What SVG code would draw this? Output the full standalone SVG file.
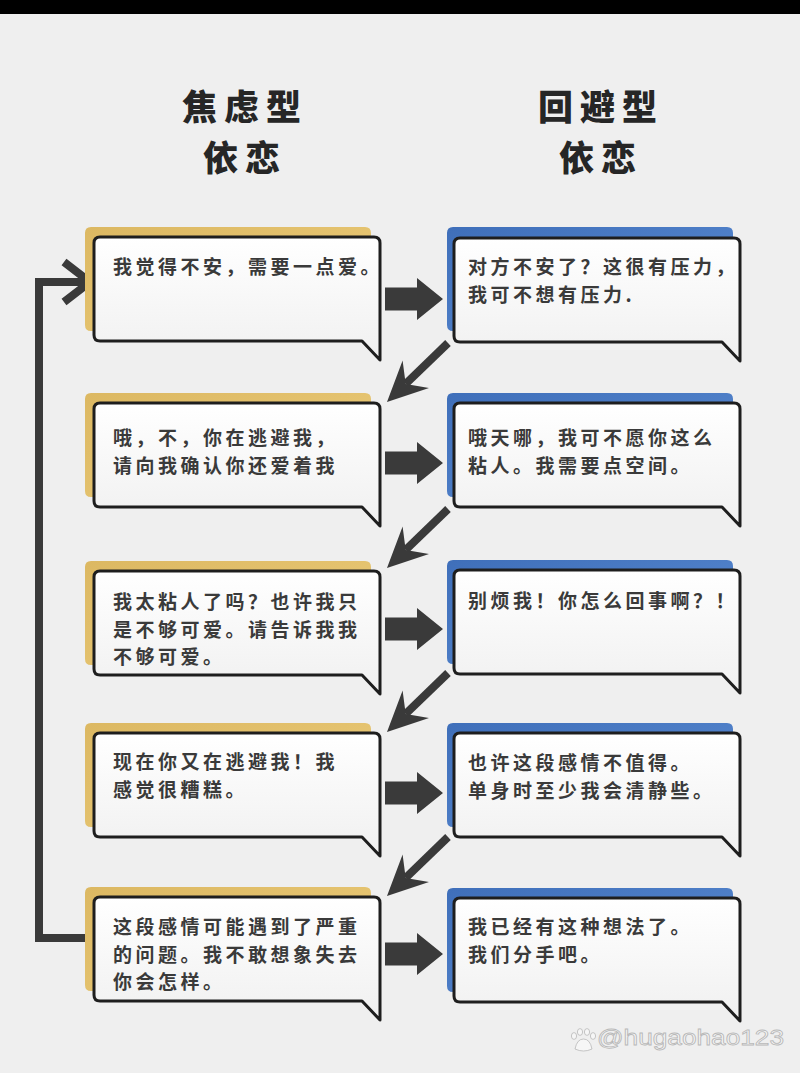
<svg xmlns="http://www.w3.org/2000/svg" xmlns:xlink="http://www.w3.org/1999/xlink" width="800" height="1073" viewBox="0 0 800 1073">
<style>
.title{font-family:"Noto Sans CJK SC","Noto Sans CJK JP",sans-serif;font-size:35px;font-weight:900;fill:#262626;text-anchor:middle;letter-spacing:7px}
.t{font-family:"Noto Sans CJK SC","Noto Sans CJK JP",sans-serif;font-size:19px;font-weight:700;fill:#3a3a3a;letter-spacing:3.5px}
.box{fill:url(#boxGrad);stroke:#1e1e1e;stroke-width:3;stroke-linejoin:round}
.shY{fill:url(#yel)}
.shB{fill:url(#blu)}
.conn{stroke:#3a3a3a;stroke-width:8;fill:none}
.wm{font-family:"Liberation Sans",Arial,sans-serif;font-size:22px;fill:#f6f6f6;stroke:#b8b8b8;stroke-width:0.8}
</style>
<defs>
<linearGradient id="boxGrad" x1="0" y1="0" x2="0" y2="1">
<stop offset="0" stop-color="#ffffff"/>
<stop offset="1" stop-color="#f0f0f0"/>
</linearGradient>
<linearGradient id="yel" x1="0" y1="0" x2="1" y2="1">
<stop offset="0" stop-color="#dcb862"/>
<stop offset="0.7" stop-color="#e8c774"/>
<stop offset="1" stop-color="#f3dc9e"/>
</linearGradient>
<linearGradient id="blu" x1="0" y1="0" x2="1" y2="1">
<stop offset="0" stop-color="#3f6fba"/>
<stop offset="0.7" stop-color="#5384cc"/>
<stop offset="1" stop-color="#8fb3e6"/>
</linearGradient>
<path id="bubble" d="M6,0 H280 Q286,0 286,6 V123 L268,104 H6 Q0,104 0,98 V6 Q0,0 6,0 Z"/>
<path id="rArrow" d="M0,-11.5 H32 V-21 L58,0 L32,21 V11.5 H0 Z" fill="#3a3a3a"/>
<g id="dArrow">
<path d="M61,-59 L18.7,-18.1" stroke="#3a3a3a" stroke-width="8" fill="none"/>
<path d="M0,0 L15.6,-41.5 L18.7,-18.1 L42,-14.1 Z" fill="#3a3a3a"/>
</g>
</defs>
<rect x="0" y="0" width="800" height="1073" fill="#efefef"/>
<rect x="0" y="0" width="800" height="14" fill="#000000"/>

<g id="title-left">
<text class="title" x="245" y="120">焦虑型</text>
<text class="title" x="245" y="171">依恋</text>
</g>
<g id="title-right">
<text class="title" x="601" y="120">回避型</text>
<text class="title" x="601" y="171">依恋</text>
</g>

<g id="connectors">
<path class="conn" d="M88,938 H39 V282 H86"/>
<path class="conn" d="M64,262 L90,282 L64,302" stroke-linejoin="miter"/>
<use href="#rArrow" x="385" y="299"/>
<use href="#rArrow" x="385" y="463"/>
<use href="#rArrow" x="385" y="629"/>
<use href="#rArrow" x="385" y="793"/>
<use href="#rArrow" x="385" y="954"/>
<use href="#dArrow" x="387" y="402"/>
<use href="#dArrow" x="387" y="568"/>
<use href="#dArrow" x="387" y="732"/>
<use href="#dArrow" x="387" y="896"/>
</g>

<g id="a1" transform="translate(94,237)">
<use href="#bubble" class="shY" transform="translate(-9,-10)"/>
<use href="#bubble" class="box"/>
<text class="t" x="19" y="37">我觉得不安，需要一点爱。</text>
</g>
<g id="b1" transform="translate(454,238)">
<use href="#bubble" class="shB" transform="translate(-7,-11)"/>
<use href="#bubble" class="box"/>
<text class="t" x="14" y="36">对方不安了？这很有压力，</text>
<text class="t" x="14" y="63.5">我可不想有压力.</text>
</g>

<g id="a2" transform="translate(94,403)">
<use href="#bubble" class="shY" transform="translate(-9,-10)"/>
<use href="#bubble" class="box"/>
<text class="t" x="19" y="42">哦，不，你在逃避我，</text>
<text class="t" x="19" y="69.5">请向我确认你还爱着我</text>
</g>
<g id="b2" transform="translate(454,403)">
<use href="#bubble" class="shB" transform="translate(-7,-10)"/>
<use href="#bubble" class="box"/>
<text class="t" x="14" y="42">哦天哪，我可不愿你这么</text>
<text class="t" x="14" y="69.5">粘人。我需要点空间。</text>
</g>

<g id="a3" transform="translate(94,571)">
<use href="#bubble" class="shY" transform="translate(-9,-10)"/>
<use href="#bubble" class="box"/>
<text class="t" x="19" y="38">我太粘人了吗？也许我只</text>
<text class="t" x="19" y="65.5">是不够可爱。请告诉我我</text>
<text class="t" x="19" y="93">不够可爱。</text>
</g>
<g id="b3" transform="translate(454,570)">
<use href="#bubble" class="shB" transform="translate(-7,-10)"/>
<use href="#bubble" class="box"/>
<text class="t" x="14" y="38">别烦我！你怎么回事啊？！</text>
</g>

<g id="a4" transform="translate(94,733)">
<use href="#bubble" class="shY" transform="translate(-9,-10)"/>
<use href="#bubble" class="box"/>
<text class="t" x="19" y="36">现在你又在逃避我！我</text>
<text class="t" x="19" y="63.5">感觉很糟糕。</text>
</g>
<g id="b4" transform="translate(454,733)">
<use href="#bubble" class="shB" transform="translate(-7,-10)"/>
<use href="#bubble" class="box"/>
<text class="t" x="14" y="37">也许这段感情不值得。</text>
<text class="t" x="14" y="64.5">单身时至少我会清静些。</text>
</g>

<g id="a5" transform="translate(94,897)">
<use href="#bubble" class="shY" transform="translate(-9,-10)"/>
<use href="#bubble" class="box"/>
<text class="t" x="19" y="37">这段感情可能遇到了严重</text>
<text class="t" x="19" y="64.5">的问题。我不敢想象失去</text>
<text class="t" x="19" y="92">你会怎样。</text>
</g>
<g id="b5" transform="translate(454,898)">
<use href="#bubble" class="shB" transform="translate(-7,-10)"/>
<use href="#bubble" class="box"/>
<text class="t" x="14" y="36">我已经有这种想法了。</text>
<text class="t" x="14" y="63.5">我们分手吧。</text>
</g>

<g id="watermark">
<g fill="#f6f6f6" stroke="#b8b8b8" stroke-width="0.8">
<ellipse cx="574" cy="1036" rx="2.6" ry="3.4"/>
<ellipse cx="580" cy="1032" rx="2.6" ry="3.4"/>
<ellipse cx="587" cy="1032" rx="2.6" ry="3.4"/>
<ellipse cx="593" cy="1036" rx="2.6" ry="3.4"/>
<path d="M575,1049 Q577,1039 583.5,1039 Q590,1039 592,1049 Q583.5,1053 575,1049 Z"/>
</g>
<text class="wm" x="597" y="1045" textLength="187" lengthAdjust="spacingAndGlyphs">@hugaohao123</text>
</g>
</svg>
